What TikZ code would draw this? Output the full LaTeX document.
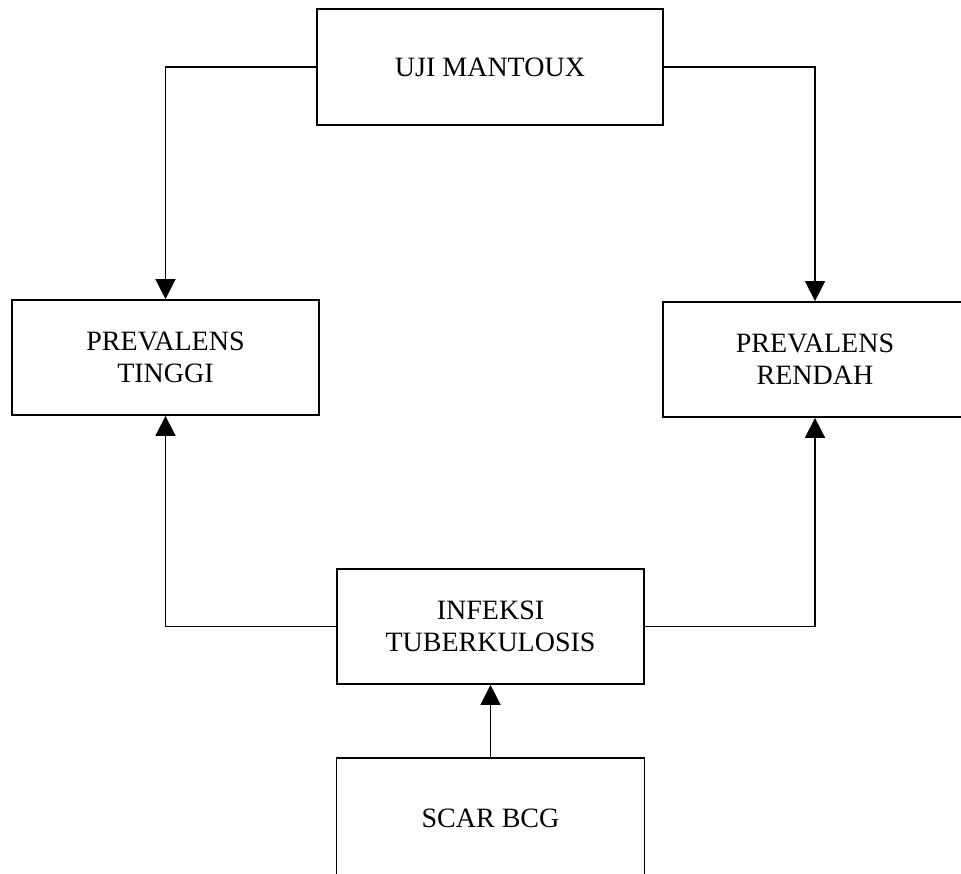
\documentclass[tikz,border=0pt]{standalone}
\usepackage{fontspec}
\setmainfont{Liberation Serif}
\usetikzlibrary{arrows.meta}

\begin{document}
\begin{tikzpicture}[x=0.5pt, y=-0.5pt, font=\fontsize{14}{16}\selectfont]

	\tikzset{
		box/.style={draw, line width=0.9pt, inner sep=0pt, align=center, minimum height=57.5pt},
		wide/.style={box, minimum width=173pt, minimum height=58pt},
		mid/.style={box, minimum width=153.5pt},
		arr/.style={line width=0.85pt, -{Triangle[width=10pt, length=10pt]}}
	}

	% page frame, the picture is cut at the bottom and right edges
	\useasboundingbox (0,0) rectangle (961,873);
	\clip (0,0) rectangle (961,873);

	% ---------------------------
	% boxes
	% ---------------------------
	\node[wide] (uji) at (490,67) {UJI MANTOUX};
	\node[mid] (tinggi) at (165.5,357.5) {PREVALENS\\TINGGI};
	\node[mid, minimum width=152pt] (rendah) at (815,359.5) {PREVALENS\\RENDAH};
	\node[mid] (infeksi) at (490.5,626.5) {INFEKSI\\TUBERKULOSIS};
	\node[mid, minimum width=154pt, minimum height=60pt] (scar) at (490.5,818) {SCAR BCG};

	% ---------------------------
	% connectors
	% ---------------------------
	\draw[arr] (uji.west) -| (tinggi.north);
	\draw[arr] (uji.east) -| (rendah.north);
	\draw[arr] (infeksi.west) -| (tinggi.south);
	\draw[arr] (infeksi.east) -| (rendah.south);
	\draw[arr] (scar.north) -- (infeksi.south);

\end{tikzpicture}
\end{document}
